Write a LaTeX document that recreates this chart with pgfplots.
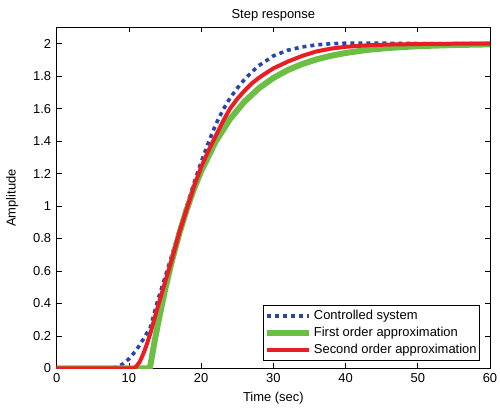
\documentclass[border=0pt]{standalone}
\usepackage{pgfplots}
\pgfplotsset{compat=1.18}
\usepackage{fontspec}
\setmainfont{Liberation Sans}
\definecolor{cblue}{RGB}{40,70,165}
\definecolor{cgreen}{RGB}{108,190,69}
\definecolor{cred}{RGB}{236,28,36}
\begin{document}
\fontsize{13}{15.5}\selectfont
\begin{tikzpicture}
\useasboundingbox (-56.7bp,-40.7bp) rectangle (443.3bp,368.3bp);
\begin{axis}[
  at={(0,0)}, anchor=south west,
  scale only axis, width=433.3bp, height=340.8bp,
  xmin=0, xmax=60, ymin=0, ymax=2.1,
  xtick={0,10,...,60},
  ytick={0,0.2,0.4,0.6,0.8,1,1.2,1.4,1.6,1.8,2},
  yticklabels={0,0.2,0.4,0.6,0.8,1,1.2,1.4,1.6,1.8,2},
  tick align=inside, major tick length=5bp,
  xtick pos=both, ytick pos=both,
  minor tick num=0,
  axis line style={line width=0.8bp},
  tick style={line width=0.6bp, black},
  /pgf/number format/assume math mode=true,
  ticklabel style={font=\fontsize{13}{15.5}\selectfont},
  xticklabel style={yshift=-1bp},
  yticklabel style={xshift=-1bp},
  title={Step response},
  title style={font=\fontsize{13}{15.5}\selectfont, at={(0.5,1)}, anchor=south, inner sep=0pt, yshift=0bp},
  xlabel={Time (sec)},
  ylabel={Amplitude},
  label style={font=\fontsize{13}{15.5}\selectfont},
  xlabel style={yshift=0bp},
  ylabel style={yshift=6bp},
  legend cell align=left,
  legend style={at={(0.977,0.022)}, anchor=south east, draw=black, line width=0.8bp,
    font=\fontsize{13}{15.5}\selectfont, inner xsep=1bp, inner ysep=3bp, row sep=1.5bp},
  legend image code/.code={\draw[#1] (0bp,0bp) -- (42bp,0bp);},
]
\addplot[cblue, line width=3.6bp, dash pattern=on 4bp off 4bp] coordinates {
(0,0) (7.5,0) (8,0.004) (9,0.022) (10,0.058) (11,0.11) (12,0.18) (13,0.255) (14,0.42)
(15,0.56) (16,0.705) (17,0.85) (18,1.0) (19,1.14) (20,1.27) (21,1.39) (22,1.50) (23,1.59)
(24,1.665) (25,1.725) (26,1.78) (27,1.825) (28,1.865) (29,1.895) (30,1.925) (32,1.96)
(34,1.98) (36,1.993) (38,2.0) (40,2.003) (45,2.003) (50,2.001) (55,2.0) (60,2.0)
};
\addlegendentry{Controlled system}
\addplot[cgreen, line width=6bp] coordinates {
(0,0) (12.9,0) (13.5,0.152) (14,0.269) (15,0.483) (16,0.670) (17,0.834) (18,0.978)
(19,1.104) (20,1.214) (22,1.396) (24,1.536) (26,1.643) (28,1.726) (30,1.789) (32,1.838)
(34,1.875) (36,1.904) (38,1.926) (40,1.943) (43,1.962) (46,1.974) (50,1.985) (55,1.992) (60,1.996)
};
\addlegendentry{First order approximation}
\addplot[cred, line width=4bp] coordinates {
(0,0) (10.7,0) (11,0.01) (11.5,0.04) (12,0.09) (12.5,0.15) (13,0.22) (13.5,0.30) (14,0.38)
(15,0.53) (16,0.68) (17,0.84) (18,0.98) (19,1.12) (20,1.24) (21,1.34) (22,1.43) (23,1.52)
(24,1.60) (25,1.66) (26,1.71) (27,1.755) (28,1.79) (29,1.82) (30,1.848) (32,1.89) (34,1.925)
(36,1.953) (38,1.97) (40,1.981) (43,1.99) (46,1.995) (50,1.998) (55,2.0) (60,2.0)
};
\addlegendentry{Second order approximation}
\end{axis}
\end{tikzpicture}
\end{document}
